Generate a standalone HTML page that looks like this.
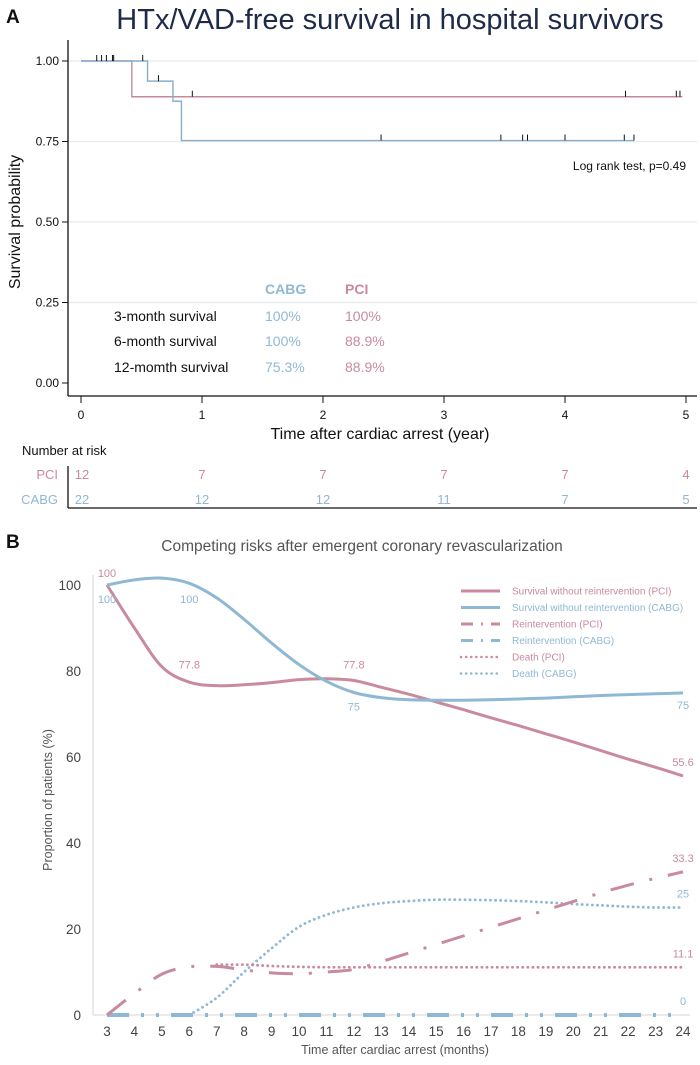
<!DOCTYPE html>
<html><head><meta charset="utf-8">
<style>
html,body{margin:0;padding:0;background:#fff;}
body{width:700px;height:1060px;overflow:hidden;font-family:"Liberation Sans",sans-serif;}
svg text{font-family:"Liberation Sans",sans-serif;}
</style></head>
<body>
<svg id="fig" width="700" height="1060" viewBox="0 0 700 1060" xmlns="http://www.w3.org/2000/svg">
  <text x="6" y="23" font-size="19" font-weight="bold" fill="#111">A</text>
  <text x="390" y="29" font-size="29" text-anchor="middle" fill="#1f2a48">HTx/VAD-free survival in hospital survivors</text>
  <g id="km"></g>
  <text x="686" y="170" font-size="12" text-anchor="end" fill="#111">Log rank test, p=0.49</text>
  <g font-size="14">
    <text x="265" y="294" font-weight="bold" fill="#8fb8d4">CABG</text>
    <text x="345" y="294" font-weight="bold" fill="#c98a9e">PCI</text>
    <text x="114" y="321" fill="#111">3-month survival</text>
    <text x="265" y="321" fill="#8fb8d4">100%</text>
    <text x="345" y="321" fill="#c98a9e">100%</text>
    <text x="114" y="346" fill="#111">6-month survival</text>
    <text x="265" y="346" fill="#8fb8d4">100%</text>
    <text x="345" y="346" fill="#c98a9e">88.9%</text>
    <text x="114" y="372" fill="#111">12-momth survival</text>
    <text x="265" y="372" fill="#8fb8d4">75.3%</text>
    <text x="345" y="372" fill="#c98a9e">88.9%</text>
  </g>
  <g id="risk">
    <text x="22" y="455" font-size="13" fill="#111">Number at risk</text>
    <text x="58" y="479" font-size="13" text-anchor="end" fill="#c98a9e">PCI</text>
    <text x="58" y="504" font-size="13" text-anchor="end" fill="#8fb8d4">CABG</text>
    <line x1="68" y1="466" x2="68" y2="508" stroke="#111" stroke-width="1.3"/>
    <line x1="68" y1="508" x2="697" y2="508" stroke="#111" stroke-width="1.3"/>
  </g>

  <text x="6" y="548" font-size="19" font-weight="bold" fill="#111">B</text>
  <text x="362" y="551" font-size="15.5" text-anchor="middle" fill="#555">Competing risks after emergent coronary revascularization</text>
  <g id="cr"></g>
</svg>
<script>
// ===== Panel A data =====
const kmYTicks = [0, 0.25, 0.5, 0.75, 1.0];
const kmYTickLabels = ["0.00", "0.25", "0.50", "0.75", "1.00"];
const kmXTicks = [0, 1, 2, 3, 4, 5];
const cabgTimes = [0, 0.55, 0.76, 0.83, 4.57];
const cabgSurv = [1.0, 0.9375, 0.875, 0.753, 0.753];
const pciTimes = [0, 0.42, 4.97];
const pciSurv = [1.0, 0.889, 0.889];
const cabgCensor = [0.13, 0.17, 0.21, 0.26, 0.27, 0.51, 0.64, 2.48, 3.47, 3.65, 3.69, 4.0, 4.49, 4.57];
const pciCensor = [0.92, 4.5, 4.92, 4.95];
const riskPci = [12, 7, 7, 7, 7, 4];
const riskCabg = [22, 12, 12, 11, 7, 5];

// ===== Panel B data =====
const months = [3,4,5,6,7,8,9,10,11,12,13,14,15,16,17,18,19,20,21,22,23,24];
const yTicksB = [0, 20, 40, 60, 80, 100];
const survPci = [100,90,81,77.4,76.6,76.8,77.3,78,78.2,77.8,76.2,74.6,72.8,71,69.1,67.3,65.4,63.5,61.5,59.5,57.6,55.6];
const survCabg = [100,101.2,101.6,100.4,97,92,86.5,81.5,77.6,75,73.8,73.3,73.2,73.2,73.3,73.5,73.7,74,74.3,74.5,74.7,74.9];
const reintPci = [0,5,9.5,11.2,11.3,10.5,9.8,9.6,10,10.6,12.4,14.4,16.4,18.4,20.4,22.4,24.4,26.4,28.4,30.2,31.8,33.3];
const reintCabg = [0,0,0,0,0,0,0,0,0,0,0,0,0,0,0,0,0,0,0,0,0,0];
const deathPci = [null,null,null,null,11.7,11.7,11.4,11.2,11.1,11.1,11.1,11.1,11.1,11.1,11.1,11.1,11.1,11.1,11.1,11.1,11.1,11.1];
const deathCabg = [null,null,null,0,4,10,15.5,20.5,23.3,25,26,26.5,26.8,26.8,26.7,26.5,26.2,25.8,25.5,25.2,25,25];
const endLabels = ["55.6", "75", "33.3", "25", "11.1", "0"];
const legendLabels = ["Survival without reintervention (PCI)","Survival without reintervention (CABG)","Reintervention (PCI)","Reintervention (CABG)","Death (PCI)","Death (CABG)"];

const NS = "http://www.w3.org/2000/svg";
function mk(tag, attrs, parent, txt){
  const e = document.createElementNS(NS, tag);
  for (const k in attrs) e.setAttribute(k, attrs[k]);
  if (txt !== undefined) e.textContent = txt;
  parent.appendChild(e);
  return e;
}
const PINK = "#c98a9e", BLUE = "#8fb8d4";

// ---------- Panel A ----------
const km = document.getElementById("km");
const xA = t => 81 + t * 121;
const yA = p => 383 - p * 322;
kmYTicks.forEach((v, i) => {
  if (v > 0) {
    const g = mk("line", {x1: 69, x2: 697, y1: yA(v), y2: yA(v), stroke: "#e6ecef", "stroke-width": 1.3}, km);
    
    
  }
  mk("line", {x1: 62, x2: 68, y1: yA(v), y2: yA(v), stroke: "#111", "stroke-width": 1}, km);
  const t = mk("text", {x: 59, y: yA(v) + 4, "font-size": 12, "text-anchor": "end", fill: "#111"}, km, kmYTickLabels[i]);
  
  
});
mk("line", {x1: 68, x2: 68, y1: 40, y2: 396, stroke: "#111", "stroke-width": 1.3}, km);
mk("line", {x1: 68, x2: 697, y1: 396, y2: 396, stroke: "#111", "stroke-width": 1.3}, km);
kmXTicks.forEach(v => {
  mk("line", {x1: xA(v), x2: xA(v), y1: 396, y2: 403, stroke: "#111", "stroke-width": 1}, km);
  const t = mk("text", {x: xA(v), y: 419, "font-size": 12, "text-anchor": "middle", fill: "#111"}, km, String(v));
  
  
});
const yt = mk("text", {x: 0, y: 0, "font-size": 16, "text-anchor": "middle", fill: "#111", transform: "translate(20,222) rotate(-90)"}, km, "Survival probability");


const xt = mk("text", {x: 380, y: 439, "font-size": 16, "text-anchor": "middle", fill: "#111"}, km, "Time after cardiac arrest (year)");



function stepPath(ts, ss){
  let d = "M" + xA(ts[0]) + "," + yA(ss[0]);
  for (let i = 1; i < ts.length; i++){
    d += " H" + xA(ts[i]) + " V" + yA(ss[i]);
  }
  return d;
}
function survAt(ts, ss, t){
  let s = ss[0];
  for (let i = 0; i < ts.length; i++) if (ts[i] <= t) s = ss[i];
  return s;
}
const pp = mk("path", {d: stepPath(pciTimes, pciSurv), fill: "none", stroke: "#c48a9a", "stroke-width": 1.4}, km);


const cp = mk("path", {d: stepPath(cabgTimes, cabgSurv), fill: "none", stroke: "#86afcf", "stroke-width": 1.4}, km);


cabgCensor.forEach(t => {
  const y = yA(survAt(cabgTimes, cabgSurv, t));
  const c = mk("line", {x1: xA(t), x2: xA(t), y1: y - 6, y2: y, stroke: "#111", "stroke-width": 1}, km);
  
  
});
pciCensor.forEach(t => {
  const y = yA(survAt(pciTimes, pciSurv, t));
  const c = mk("line", {x1: xA(t), x2: xA(t), y1: y - 6, y2: y, stroke: "#111", "stroke-width": 1}, km);
  
  
});
const risk = document.getElementById("risk");
riskPci.forEach((n, i) => {
  const x = i === 0 ? 82 : xA(kmXTicks[i]);
  const t = mk("text", {x: x, y: 479, "font-size": 13, "text-anchor": "middle", fill: PINK}, risk, String(n));
  
  
});
riskCabg.forEach((n, i) => {
  const x = i === 0 ? 82 : xA(kmXTicks[i]);
  const t = mk("text", {x: x, y: 504, "font-size": 13, "text-anchor": "middle", fill: BLUE}, risk, String(n));
  
  
});

// ---------- Panel B ----------
const cr = document.getElementById("cr");
const xB = m => 107 + (m - 3) * 27.43;
const yB = v => 1015 - v * 4.3;
mk("line", {x1: 93, x2: 93, y1: 575, y2: 1015, stroke: "#d4d4d4", "stroke-width": 1}, cr);
mk("line", {x1: 93, x2: 690, y1: 1015, y2: 1015, stroke: "#d4d4d4", "stroke-width": 1}, cr);
yTicksB.forEach(v => {
  const t = mk("text", {x: 81, y: yB(v) + 5, "font-size": 13.5, "text-anchor": "end", fill: "#444"}, cr, String(v));
  
  
});
months.forEach(m => {
  const t = mk("text", {x: xB(m), y: 1036, "font-size": 13.5, "text-anchor": "middle", fill: "#444"}, cr, String(m));
  
  
});
const xtb = mk("text", {x: 395, y: 1054, "font-size": 12.5, "text-anchor": "middle", fill: "#555"}, cr, "Time after cardiac arrest (months)");


const ytb = mk("text", {x: 0, y: 0, "font-size": 12.5, "text-anchor": "middle", fill: "#555", transform: "translate(52,800) rotate(-90)"}, cr, "Proportion of patients (%)");



function smoothPath(vals){
  const pts = [];
  months.forEach((m, i) => { if (vals[i] !== null) pts.push([xB(m), yB(vals[i])]); });
  let d = "M" + pts[0][0] + "," + pts[0][1];
  for (let i = 0; i < pts.length - 1; i++){
    const p0 = pts[Math.max(0, i - 1)], p1 = pts[i], p2 = pts[i + 1], p3 = pts[Math.min(pts.length - 1, i + 2)];
    const c1 = [p1[0] + (p2[0] - p0[0]) / 6, p1[1] + (p2[1] - p0[1]) / 6];
    const c2 = [p2[0] - (p3[0] - p1[0]) / 6, p2[1] - (p3[1] - p1[1]) / 6];
    d += " C" + c1[0] + "," + c1[1] + " " + c2[0] + "," + c2[1] + " " + p2[0] + "," + p2[1];
  }
  return d;
}
const DOT = "0.1 5";
const series = [
  {v: survPci, c: PINK, dash: null, w: 3, name: "pci-survival-line"},
  {v: survCabg, c: BLUE, dash: null, w: 3, name: "cabg-survival-line"},
  {v: deathCabg, c: BLUE, dash: DOT, w: 2.8, name: "cabg-death-line"},
  {v: deathPci, c: PINK, dash: DOT, w: 2.8, name: "pci-death-line"},
  {v: reintCabg, c: BLUE, dash: "22 12 3 12 3 12", w: 4, name: "cabg-reintervention-line"},
  {v: reintPci, c: PINK, dash: "24 16 3 16", w: 3, name: "pci-reintervention-line"}
];
series.forEach(s => {
  const a = {d: smoothPath(s.v), fill: "none", stroke: s.c, "stroke-width": s.w, "stroke-linecap": s.dash === DOT ? "round" : "butt"};
  if (s.dash) a["stroke-dasharray"] = s.dash;
  const p = mk("path", a, cr);
  
  
});

// point labels
const ptLabels = [
  [3, 100, 0, -8, "100", PINK], [3, 100, 0, 8, "100", BLUE], [6, 100, 0, 8, "100", BLUE],
  [6, 77.8, 0, -12, "77.8", PINK], [12, 77.8, 0, -12, "77.8", PINK], [12, 75, 0, 8, "75", BLUE]
];
ptLabels.forEach(l => {
  const t = mk("text", {x: xB(l[0]), y: yB(l[1]) + l[3] + (l[3] > 0 ? 10 : 0), "font-size": 11, "text-anchor": "middle", fill: l[5]}, cr, l[4]);
  
  
});
const endVals = [survPci[21], survCabg[21], reintPci[21], deathCabg[21], deathPci[21], reintCabg[21]];
const endColors = [PINK, BLUE, PINK, BLUE, PINK, BLUE];
const endOff = [-10, 16, -10, -10, -10, -10];
endLabels.forEach((lab, i) => {
  const t = mk("text", {x: xB(24), y: yB(endVals[i]) + endOff[i], "font-size": 11, "text-anchor": "middle", fill: endColors[i]}, cr, lab);
  
  
});
// legend
const legDash = [null, null, "12 8 2 8", "12 8 2 8", DOT, DOT];
const legW = [3, 3, 3, 3, 2.5, 2.5];
legendLabels.forEach((lab, i) => {
  const y = 591 + i * 16.5;
  const g = mk("g", {}, cr);
  
  
  const a = {x1: 461, x2: 500, y1: y, y2: y, stroke: endColors[i], "stroke-width": legW[i], "stroke-linecap": legDash[i] === DOT ? "round" : "butt"};
  if (legDash[i]) a["stroke-dasharray"] = legDash[i];
  mk("line", a, g);
  mk("text", {x: 512, y: y + 3.5, "font-size": 10, fill: endColors[i]}, g, lab);
});
</script>
</body></html>
